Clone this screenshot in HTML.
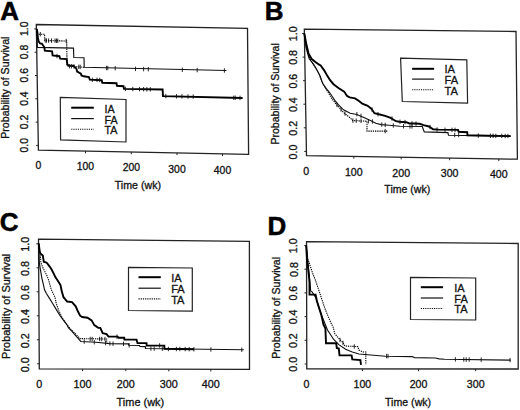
<!DOCTYPE html><html><head><meta charset="utf-8"><style>html,body{margin:0;padding:0;background:#fff;}svg{display:block;}</style></head><body>
<svg width="520" height="410" viewBox="0 0 520 410" font-family='"Liberation Sans", sans-serif'>
<rect width="520" height="410" fill="#fff"/>
<polygon points="36.3,24.5 247.5,28.4 248.6,154.4 38.4,150.1" fill="none" stroke="#222" stroke-width="1.3" stroke-linejoin="miter" opacity="1"/>
<line x1="36.1" y1="145.4" x2="38.3" y2="145.4" stroke="#222" stroke-width="1"/>
<line x1="35.7" y1="122.1" x2="37.9" y2="122.1" stroke="#222" stroke-width="1"/>
<line x1="35.3" y1="98.8" x2="37.5" y2="98.8" stroke="#222" stroke-width="1"/>
<line x1="35.0" y1="75.5" x2="37.2" y2="75.5" stroke="#222" stroke-width="1"/>
<line x1="34.6" y1="52.2" x2="36.8" y2="52.2" stroke="#222" stroke-width="1"/>
<line x1="34.2" y1="28.9" x2="36.4" y2="28.9" stroke="#222" stroke-width="1"/>
<line x1="85.5" y1="151.1" x2="85.5" y2="153.3" stroke="#222" stroke-width="1"/>
<line x1="131.3" y1="152.0" x2="131.3" y2="154.2" stroke="#222" stroke-width="1"/>
<line x1="177.0" y1="152.9" x2="177.0" y2="155.1" stroke="#222" stroke-width="1"/>
<line x1="222.5" y1="153.9" x2="222.5" y2="156.1" stroke="#222" stroke-width="1"/>
<text x="27.9" y="145.2" font-size="10.4" text-anchor="middle" font-weight="normal" fill="#111" stroke="#111" stroke-width="0.3" transform="rotate(-90 27.9 145.2)">0.0</text>
<text x="27.9" y="121.9" font-size="10.4" text-anchor="middle" font-weight="normal" fill="#111" stroke="#111" stroke-width="0.3" transform="rotate(-90 27.9 121.9)">0.2</text>
<text x="27.9" y="98.6" font-size="10.4" text-anchor="middle" font-weight="normal" fill="#111" stroke="#111" stroke-width="0.3" transform="rotate(-90 27.9 98.6)">0.4</text>
<text x="27.9" y="75.3" font-size="10.4" text-anchor="middle" font-weight="normal" fill="#111" stroke="#111" stroke-width="0.3" transform="rotate(-90 27.9 75.3)">0.6</text>
<text x="27.9" y="52.0" font-size="10.4" text-anchor="middle" font-weight="normal" fill="#111" stroke="#111" stroke-width="0.3" transform="rotate(-90 27.9 52.0)">0.8</text>
<text x="27.9" y="28.7" font-size="10.4" text-anchor="middle" font-weight="normal" fill="#111" stroke="#111" stroke-width="0.3" transform="rotate(-90 27.9 28.7)">1.0</text>
<text x="38.5" y="169.2" font-size="10.4" text-anchor="middle" font-weight="normal" fill="#111" stroke="#111" stroke-width="0.3">0</text>
<text x="85.3" y="170.4" font-size="10.4" text-anchor="middle" font-weight="normal" fill="#111" stroke="#111" stroke-width="0.3">100</text>
<text x="131.3" y="171.2" font-size="10.4" text-anchor="middle" font-weight="normal" fill="#111" stroke="#111" stroke-width="0.3">200</text>
<text x="177.0" y="173.1" font-size="10.4" text-anchor="middle" font-weight="normal" fill="#111" stroke="#111" stroke-width="0.3">300</text>
<text x="222.5" y="173.8" font-size="10.4" text-anchor="middle" font-weight="normal" fill="#111" stroke="#111" stroke-width="0.3">400</text>
<text x="9.3" y="87.7" font-size="10.65" text-anchor="middle" font-weight="normal" fill="#111" stroke="#111" stroke-width="0.3" transform="rotate(-90 9.3 87.7)">Probability of Survival</text>
<text x="137.9" y="188.6" font-size="10.65" text-anchor="middle" font-weight="normal" fill="#111" stroke="#111" stroke-width="0.3">Time (wk)</text>
<text x="0.2" y="20.3" font-size="26" text-anchor="start" font-weight="bold" fill="#000" stroke="#000" stroke-width="0.5">A</text>
<polygon points="60.3,97.4 126.0,99.5 126.0,142.0 60.6,139.9" fill="none" stroke="#222" stroke-width="1.2" stroke-linejoin="miter" opacity="1"/>
<polyline points="71.2,107.7 93.8,107.7" fill="none" stroke="#000" stroke-width="2.0" stroke-linejoin="miter" opacity="1"/>
<polyline points="71.2,118.6 93.8,118.6" fill="none" stroke="#111" stroke-width="1.2" stroke-linejoin="miter" opacity="1"/>
<polyline points="71.2,129.2 93.8,129.2" fill="none" stroke="#111" stroke-width="1.1" stroke-dasharray="1.2,1" stroke-linejoin="miter" opacity="1"/>
<text x="104.5" y="113.0" font-size="10.7" text-anchor="start" font-weight="normal" fill="#111" stroke="#111" stroke-width="0.3">IA</text>
<text x="104.5" y="123.6" font-size="10.7" text-anchor="start" font-weight="normal" fill="#111" stroke="#111" stroke-width="0.3">FA</text>
<text x="104.5" y="134.2" font-size="10.7" text-anchor="start" font-weight="normal" fill="#111" stroke="#111" stroke-width="0.3">TA</text>
<polyline points="36.8,29.0 37.4,47.4 73.5,48.1 73.8,57.5 84.0,57.7 84.2,67.3 226.4,70.5" fill="none" stroke="#111" stroke-width="1.15" stroke-linejoin="miter" opacity="1"/>
<polyline points="36.8,29.0 37.5,34.2 44.6,34.2 44.7,40.5 66.7,41.0 67.0,66.0 84.2,67.3" fill="none" stroke="#000" stroke-width="1.1" stroke-dasharray="1.3,0.9" stroke-linejoin="miter" opacity="1"/>
<polyline points="36.8,29.0 37.5,33.0 37.9,38.2 38.5,40.6 38.9,41.9 40.1,43.4 41.9,43.7 43.1,45.5 44.4,47.3 44.8,50.6 52.1,51.3 52.6,55.5 59.4,56.2 60.2,58.7 66.7,59.1 67.3,64.2 68.7,65.6 73.5,65.8 74.5,67.0 76.2,68.3 77.2,71.6 80.9,73.6 81.5,75.5 83.6,76.3 88.9,77.0 89.8,79.7 101.7,80.2 102.3,82.8 116.5,83.2 117.0,85.8 123.5,86.2 124.0,88.9 162.6,89.5 163.0,96.1 242.6,98.0" fill="none" stroke="#000" stroke-width="1.9" stroke-linejoin="miter" opacity="1"/>
<path d="M57.0 53.8V58.2 M92.3 77.6V82.0 M97.0 77.7V82.1 M99.7 77.8V82.2 M125.4 86.7V91.1 M132.8 86.8V91.2 M139.5 86.9V91.3 M143.6 87.0V91.4 M146.9 87.1V91.5 M150.3 87.1V91.5 M165.8 93.9V98.3 M176.5 94.1V98.5 M181.9 94.2V98.6 M188.0 94.3V98.7 M193.2 94.4V98.8 M233.8 95.6V100.0 M235.2 95.6V100.0 M240.0 95.7V100.1" stroke="#111" stroke-width="0.9" fill="none"/>
<path d="M106.4 65.8V70.2 M107.8 65.8V70.2 M115.2 66.0V70.4 M135.5 66.7V71.1 M143.6 66.9V71.3 M148.3 67.0V71.4 M182.3 67.6V72.0 M197.2 67.9V72.3 M224.4 68.3V72.7" stroke="#111" stroke-width="0.9" fill="none"/>
<path d="M40.3 32.0V36.4 M45.2 38.3V42.7 M46.5 38.3V42.7 M48.6 38.4V42.8 M51.5 38.4V42.8 M55.0 38.5V42.9 M56.5 38.5V42.9 M57.8 38.5V42.9 M66.2 38.8V43.2 M69.4 64.0V68.4 M71.4 64.1V68.5 M74.1 64.3V68.7 M78.8 64.6V69.0 M80.2 64.7V69.1" stroke="#111" stroke-width="0.9" fill="none"/>
<polygon points="304.3,29.1 516.0,31.5 517.4,159.2 306.5,155.6" fill="none" stroke="#222" stroke-width="1.3" stroke-linejoin="miter" opacity="1"/>
<line x1="304.2" y1="151.4" x2="306.4" y2="151.4" stroke="#222" stroke-width="1"/>
<line x1="303.8" y1="127.8" x2="306.0" y2="127.8" stroke="#222" stroke-width="1"/>
<line x1="303.4" y1="104.2" x2="305.6" y2="104.2" stroke="#222" stroke-width="1"/>
<line x1="303.0" y1="80.7" x2="305.2" y2="80.7" stroke="#222" stroke-width="1"/>
<line x1="302.6" y1="57.1" x2="304.8" y2="57.1" stroke="#222" stroke-width="1"/>
<line x1="302.2" y1="33.5" x2="304.4" y2="33.5" stroke="#222" stroke-width="1"/>
<line x1="353.8" y1="156.4" x2="353.8" y2="158.6" stroke="#222" stroke-width="1"/>
<line x1="401.2" y1="157.2" x2="401.2" y2="159.4" stroke="#222" stroke-width="1"/>
<line x1="449.6" y1="158.0" x2="449.6" y2="160.2" stroke="#222" stroke-width="1"/>
<line x1="498.8" y1="158.9" x2="498.8" y2="161.1" stroke="#222" stroke-width="1"/>
<text x="296.6" y="152.0" font-size="10.6" text-anchor="middle" font-weight="normal" fill="#111" stroke="#111" stroke-width="0.3" transform="rotate(-90 296.6 152.0)">0.0</text>
<text x="296.6" y="128.3" font-size="10.6" text-anchor="middle" font-weight="normal" fill="#111" stroke="#111" stroke-width="0.3" transform="rotate(-90 296.6 128.3)">0.2</text>
<text x="296.6" y="104.7" font-size="10.6" text-anchor="middle" font-weight="normal" fill="#111" stroke="#111" stroke-width="0.3" transform="rotate(-90 296.6 104.7)">0.4</text>
<text x="296.6" y="81.1" font-size="10.6" text-anchor="middle" font-weight="normal" fill="#111" stroke="#111" stroke-width="0.3" transform="rotate(-90 296.6 81.1)">0.6</text>
<text x="296.6" y="57.4" font-size="10.6" text-anchor="middle" font-weight="normal" fill="#111" stroke="#111" stroke-width="0.3" transform="rotate(-90 296.6 57.4)">0.8</text>
<text x="296.6" y="33.8" font-size="10.6" text-anchor="middle" font-weight="normal" fill="#111" stroke="#111" stroke-width="0.3" transform="rotate(-90 296.6 33.8)">1.0</text>
<text x="306.1" y="175.2" font-size="10.6" text-anchor="middle" font-weight="normal" fill="#111" stroke="#111" stroke-width="0.3">0</text>
<text x="353.8" y="175.9" font-size="10.6" text-anchor="middle" font-weight="normal" fill="#111" stroke="#111" stroke-width="0.3">100</text>
<text x="401.2" y="176.7" font-size="10.6" text-anchor="middle" font-weight="normal" fill="#111" stroke="#111" stroke-width="0.3">200</text>
<text x="449.6" y="177.4" font-size="10.6" text-anchor="middle" font-weight="normal" fill="#111" stroke="#111" stroke-width="0.3">300</text>
<text x="498.8" y="178.2" font-size="10.6" text-anchor="middle" font-weight="normal" fill="#111" stroke="#111" stroke-width="0.3">400</text>
<text x="279.0" y="93.9" font-size="10.55" text-anchor="middle" font-weight="normal" fill="#111" stroke="#111" stroke-width="0.3" transform="rotate(-90 279.0 93.9)">Probability of Survival</text>
<text x="407.3" y="193.0" font-size="10.55" text-anchor="middle" font-weight="normal" fill="#111" stroke="#111" stroke-width="0.3">Time (wk)</text>
<text x="264.8" y="19.5" font-size="26" text-anchor="start" font-weight="bold" fill="#000" stroke="#000" stroke-width="0.5">B</text>
<polygon points="400.6,58.2 466.8,59.8 467.6,103.1 402.3,101.5" fill="none" stroke="#222" stroke-width="1.2" stroke-linejoin="miter" opacity="1"/>
<polyline points="412.1,68.8 434.1,68.8" fill="none" stroke="#000" stroke-width="2.0" stroke-linejoin="miter" opacity="1"/>
<polyline points="412.1,79.1 434.1,79.1" fill="none" stroke="#111" stroke-width="1.2" stroke-linejoin="miter" opacity="1"/>
<polyline points="412.1,89.7 434.1,89.7" fill="none" stroke="#111" stroke-width="1.1" stroke-dasharray="1.2,1" stroke-linejoin="miter" opacity="1"/>
<text x="444.5" y="73.2" font-size="11.1" text-anchor="start" font-weight="normal" fill="#111" stroke="#111" stroke-width="0.3">IA</text>
<text x="444.5" y="83.8" font-size="11.1" text-anchor="start" font-weight="normal" fill="#111" stroke="#111" stroke-width="0.3">FA</text>
<text x="444.5" y="95.2" font-size="11.1" text-anchor="start" font-weight="normal" fill="#111" stroke="#111" stroke-width="0.3">TA</text>
<polyline points="304.3,33.5 305.5,42.0 306.2,48.0 309.2,58.8 312.3,62.7 315.4,67.3 317.7,71.2 320.0,75.8 322.7,83.6 326.1,88.3 329.4,92.3 332.1,96.3 334.8,100.4 338.1,104.4 343.5,109.8 350.2,113.2 356.9,114.5 365.0,117.9 370.4,120.6 375.8,123.3 381.1,124.6 389.2,125.3 400.0,126.2 422.3,126.5 424.3,131.9 447.9,132.6 448.5,135.3 510.6,136.1" fill="none" stroke="#111" stroke-width="1.15" stroke-linejoin="miter" opacity="1"/>
<polyline points="304.3,33.5 306.0,46.0 308.5,56.0 311.5,61.5 314.5,66.0 317.0,70.5 319.5,75.0 321.3,80.2 324.0,85.5 328.1,92.3 332.1,99.0 336.0,104.0 340.0,108.5 343.5,112.5 350.2,117.9 352.9,120.6 367.0,121.2 367.0,131.1 387.9,131.1" fill="none" stroke="#000" stroke-width="1.1" stroke-dasharray="1.3,0.9" stroke-linejoin="miter" opacity="1"/>
<polyline points="304.3,33.5 306.2,43.5 308.5,53.5 311.5,58.8 315.4,61.9 319.2,64.7 320.7,65.4 324.0,70.1 326.7,74.8 330.1,80.2 333.5,84.2 338.8,88.3 344.2,91.6 346.9,95.7 349.6,97.4 355.0,98.4 359.0,101.0 362.3,103.7 367.7,105.8 371.7,109.1 374.4,113.2 379.8,114.5 385.2,115.9 390.6,117.9 396.0,121.2 399.4,121.8 406.2,122.2 408.8,123.2 419.6,123.8 423.6,125.2 429.0,126.5 433.1,129.2 438.5,129.6 458.1,129.9 458.6,131.8 467.2,132.2 467.5,135.2 510.6,136.1" fill="none" stroke="#000" stroke-width="1.9" stroke-linejoin="miter" opacity="1"/>
<path d="M372.0 107.3V111.7 M378.0 112.0V116.4 M392.0 116.3V120.7 M400.0 119.6V124.0 M405.0 119.9V124.3 M412.0 121.2V125.6 M416.0 121.4V125.8 M430.0 124.8V129.2 M437.0 127.3V131.7 M445.0 127.6V132.0 M452.0 127.7V132.1 M455.0 127.7V132.1 M478.3 133.4V137.8 M490.4 133.6V138.0 M493.1 133.6V138.0 M495.8 133.7V138.1 M501.8 133.7V138.1 M505.2 133.8V138.2 M507.9 133.8V138.2" stroke="#111" stroke-width="0.9" fill="none"/>
<path d="M356.9 112.0V116.4 M361.0 113.7V118.1 M372.4 119.3V123.7 M381.8 122.3V126.7 M385.2 122.7V127.1 M393.3 123.3V127.7 M403.5 124.1V128.5 M410.0 124.2V128.6 M412.0 124.2V128.6 M454.7 132.8V137.2 M458.7 132.8V137.2" stroke="#111" stroke-width="0.9" fill="none"/>
<path d="M337.0 102.8V107.2 M341.0 107.3V111.7 M345.0 111.3V115.7 M352.9 118.4V122.8 M356.2 118.5V122.9 M361.0 118.6V123.0 M368.4 119.0V123.4 M385.2 128.9V133.3" stroke="#111" stroke-width="0.9" fill="none"/>
<polygon points="38.5,239.1 249.4,241.3 249.5,369.4 39.3,368.8" fill="none" stroke="#222" stroke-width="1.3" stroke-linejoin="miter" opacity="1"/>
<line x1="37.1" y1="363.8" x2="39.3" y2="363.8" stroke="#222" stroke-width="1"/>
<line x1="36.9" y1="339.8" x2="39.1" y2="339.8" stroke="#222" stroke-width="1"/>
<line x1="36.8" y1="315.8" x2="39.0" y2="315.8" stroke="#222" stroke-width="1"/>
<line x1="36.6" y1="291.8" x2="38.8" y2="291.8" stroke="#222" stroke-width="1"/>
<line x1="36.5" y1="267.8" x2="38.7" y2="267.8" stroke="#222" stroke-width="1"/>
<line x1="36.3" y1="243.8" x2="38.5" y2="243.8" stroke="#222" stroke-width="1"/>
<line x1="82.6" y1="368.9" x2="82.6" y2="371.1" stroke="#222" stroke-width="1"/>
<line x1="125.8" y1="369.0" x2="125.8" y2="371.2" stroke="#222" stroke-width="1"/>
<line x1="168.8" y1="369.2" x2="168.8" y2="371.4" stroke="#222" stroke-width="1"/>
<line x1="210.8" y1="369.3" x2="210.8" y2="371.5" stroke="#222" stroke-width="1"/>
<text x="29.2" y="364.8" font-size="10.8" text-anchor="middle" font-weight="normal" fill="#111" stroke="#111" stroke-width="0.3" transform="rotate(-90 29.2 364.8)">0.0</text>
<text x="29.2" y="340.7" font-size="10.8" text-anchor="middle" font-weight="normal" fill="#111" stroke="#111" stroke-width="0.3" transform="rotate(-90 29.2 340.7)">0.2</text>
<text x="29.2" y="316.6" font-size="10.8" text-anchor="middle" font-weight="normal" fill="#111" stroke="#111" stroke-width="0.3" transform="rotate(-90 29.2 316.6)">0.4</text>
<text x="29.2" y="292.5" font-size="10.8" text-anchor="middle" font-weight="normal" fill="#111" stroke="#111" stroke-width="0.3" transform="rotate(-90 29.2 292.5)">0.6</text>
<text x="29.2" y="268.4" font-size="10.8" text-anchor="middle" font-weight="normal" fill="#111" stroke="#111" stroke-width="0.3" transform="rotate(-90 29.2 268.4)">0.8</text>
<text x="29.2" y="244.3" font-size="10.8" text-anchor="middle" font-weight="normal" fill="#111" stroke="#111" stroke-width="0.3" transform="rotate(-90 29.2 244.3)">1.0</text>
<text x="39.2" y="387.6" font-size="10.8" text-anchor="middle" font-weight="normal" fill="#111" stroke="#111" stroke-width="0.3">0</text>
<text x="82.6" y="387.7" font-size="10.8" text-anchor="middle" font-weight="normal" fill="#111" stroke="#111" stroke-width="0.3">100</text>
<text x="125.8" y="387.8" font-size="10.8" text-anchor="middle" font-weight="normal" fill="#111" stroke="#111" stroke-width="0.3">200</text>
<text x="168.8" y="387.9" font-size="10.8" text-anchor="middle" font-weight="normal" fill="#111" stroke="#111" stroke-width="0.3">300</text>
<text x="210.8" y="388.0" font-size="10.8" text-anchor="middle" font-weight="normal" fill="#111" stroke="#111" stroke-width="0.3">400</text>
<text x="10.0" y="306.3" font-size="10.95" text-anchor="middle" font-weight="normal" fill="#111" stroke="#111" stroke-width="0.3" transform="rotate(-90 10.0 306.3)">Probability of Survival</text>
<text x="140.4" y="406.0" font-size="10.95" text-anchor="middle" font-weight="normal" fill="#111" stroke="#111" stroke-width="0.3">Time (wk)</text>
<text x="-0.3" y="231.0" font-size="26" text-anchor="start" font-weight="bold" fill="#000" stroke="#000" stroke-width="0.5">C</text>
<polygon points="128.5,267.4 192.3,268.0 192.3,311.1 128.5,310.5" fill="none" stroke="#222" stroke-width="1.2" stroke-linejoin="miter" opacity="1"/>
<polyline points="138.5,277.2 160.8,277.2" fill="none" stroke="#000" stroke-width="2.0" stroke-linejoin="miter" opacity="1"/>
<polyline points="138.5,288.2 160.8,288.2" fill="none" stroke="#111" stroke-width="1.2" stroke-linejoin="miter" opacity="1"/>
<polyline points="138.5,298.9 160.8,298.9" fill="none" stroke="#111" stroke-width="1.1" stroke-dasharray="1.2,1" stroke-linejoin="miter" opacity="1"/>
<text x="171.2" y="281.7" font-size="11" text-anchor="start" font-weight="normal" fill="#111" stroke="#111" stroke-width="0.3">IA</text>
<text x="171.2" y="292.5" font-size="11" text-anchor="start" font-weight="normal" fill="#111" stroke="#111" stroke-width="0.3">FA</text>
<text x="171.2" y="304.0" font-size="11" text-anchor="start" font-weight="normal" fill="#111" stroke="#111" stroke-width="0.3">TA</text>
<polyline points="38.7,243.5 39.3,262.0 39.9,266.6 40.9,272.4 41.9,278.3 43.3,284.1 44.6,290.0 46.4,293.5 49.5,298.4 52.5,303.3 56.2,309.4 59.9,315.5 63.5,320.4 66.6,324.0 68.4,327.7 72.0,331.3 75.0,335.0 78.8,339.2 80.8,341.5 96.0,342.3 110.0,343.6 128.5,343.9 128.7,345.3 139.5,345.5 140.0,346.5 145.3,346.6 145.5,348.5 243.8,349.8" fill="none" stroke="#111" stroke-width="1.15" stroke-linejoin="miter" opacity="1"/>
<polyline points="38.7,243.5 39.5,250.0 40.4,255.9 40.9,262.7 42.8,267.6 45.3,272.4 47.2,276.3 48.7,280.2 49.7,284.1 51.1,289.0 52.5,292.3 55.0,297.2 56.2,303.3 59.2,311.8 62.3,317.9 66.0,323.5 70.0,328.5 74.1,332.5 78.1,336.5 80.1,338.6 106.6,339.0 106.8,343.2" fill="none" stroke="#000" stroke-width="1.1" stroke-dasharray="1.3,0.9" stroke-linejoin="miter" opacity="1"/>
<polyline points="38.7,243.5 39.7,251.4 40.4,253.4 42.8,255.4 43.8,261.7 46.7,262.7 49.7,266.6 51.6,269.5 53.6,273.4 55.5,277.3 57.5,280.2 59.4,283.2 60.5,285.0 61.7,291.1 63.5,297.2 67.2,301.5 72.0,302.1 75.7,306.3 78.1,311.8 80.1,315.7 82.2,317.0 87.5,317.7 91.6,320.4 94.3,325.1 98.3,327.8 100.3,327.9 102.7,333.2 106.6,334.1 108.5,336.5 117.7,336.6 118.5,337.7 124.2,337.7 124.4,339.6 136.5,339.6 137.5,343.1 146.5,343.1 146.7,345.5 164.3,345.6 164.5,348.7 194.0,349.3" fill="none" stroke="#000" stroke-width="1.9" stroke-linejoin="miter" opacity="1"/>
<path d="M117.0 334.5V338.9 M159.6 343.3V347.7 M176.4 346.8V351.2 M179.8 346.8V351.2 M185.2 346.9V351.3 M189.2 347.0V351.4 M193.9 347.1V351.5" stroke="#111" stroke-width="0.9" fill="none"/>
<path d="M84.2 339.4V343.8 M94.3 340.0V344.4 M105.6 340.9V345.3 M109.9 341.3V345.7 M113.0 341.5V345.9 M123.5 341.6V346.0 M129.2 343.1V347.5 M150.9 346.4V350.8 M154.2 346.4V350.8 M162.3 346.5V350.9 M168.4 346.8V351.2 M210.9 347.3V351.7 M241.8 347.6V352.0" stroke="#111" stroke-width="0.9" fill="none"/>
<path d="M90.2 336.8V341.2 M92.2 336.8V341.2 M99.6 336.8V341.2 M101.7 336.8V341.2 M105.0 336.8V341.2" stroke="#111" stroke-width="0.9" fill="none"/>
<polygon points="306.5,241.7 518.2,243.5 518.2,369.0 306.8,368.9" fill="none" stroke="#222" stroke-width="1.3" stroke-linejoin="miter" opacity="1"/>
<line x1="304.6" y1="364.0" x2="306.8" y2="364.0" stroke="#222" stroke-width="1"/>
<line x1="304.5" y1="340.3" x2="306.7" y2="340.3" stroke="#222" stroke-width="1"/>
<line x1="304.5" y1="316.6" x2="306.7" y2="316.6" stroke="#222" stroke-width="1"/>
<line x1="304.4" y1="292.9" x2="306.6" y2="292.9" stroke="#222" stroke-width="1"/>
<line x1="304.4" y1="269.2" x2="306.6" y2="269.2" stroke="#222" stroke-width="1"/>
<line x1="304.3" y1="245.5" x2="306.5" y2="245.5" stroke="#222" stroke-width="1"/>
<line x1="362.4" y1="368.9" x2="362.4" y2="371.1" stroke="#222" stroke-width="1"/>
<line x1="418.5" y1="369.0" x2="418.5" y2="371.2" stroke="#222" stroke-width="1"/>
<line x1="475.7" y1="369.0" x2="475.7" y2="371.2" stroke="#222" stroke-width="1"/>
<text x="297.5" y="364.3" font-size="10.6" text-anchor="middle" font-weight="normal" fill="#111" stroke="#111" stroke-width="0.3" transform="rotate(-90 297.5 364.3)">0.0</text>
<text x="297.5" y="340.6" font-size="10.6" text-anchor="middle" font-weight="normal" fill="#111" stroke="#111" stroke-width="0.3" transform="rotate(-90 297.5 340.6)">0.2</text>
<text x="297.5" y="316.9" font-size="10.6" text-anchor="middle" font-weight="normal" fill="#111" stroke="#111" stroke-width="0.3" transform="rotate(-90 297.5 316.9)">0.4</text>
<text x="297.5" y="293.2" font-size="10.6" text-anchor="middle" font-weight="normal" fill="#111" stroke="#111" stroke-width="0.3" transform="rotate(-90 297.5 293.2)">0.6</text>
<text x="297.5" y="269.5" font-size="10.6" text-anchor="middle" font-weight="normal" fill="#111" stroke="#111" stroke-width="0.3" transform="rotate(-90 297.5 269.5)">0.8</text>
<text x="297.5" y="245.8" font-size="10.6" text-anchor="middle" font-weight="normal" fill="#111" stroke="#111" stroke-width="0.3" transform="rotate(-90 297.5 245.8)">1.0</text>
<text x="306.5" y="387.6" font-size="10.6" text-anchor="middle" font-weight="normal" fill="#111" stroke="#111" stroke-width="0.3">0</text>
<text x="362.4" y="387.7" font-size="10.6" text-anchor="middle" font-weight="normal" fill="#111" stroke="#111" stroke-width="0.3">100</text>
<text x="418.5" y="387.8" font-size="10.6" text-anchor="middle" font-weight="normal" fill="#111" stroke="#111" stroke-width="0.3">200</text>
<text x="475.7" y="387.9" font-size="10.6" text-anchor="middle" font-weight="normal" fill="#111" stroke="#111" stroke-width="0.3">300</text>
<text x="279.7" y="307.8" font-size="10.6" text-anchor="middle" font-weight="normal" fill="#111" stroke="#111" stroke-width="0.3" transform="rotate(-90 279.7 307.8)">Probability of Survival</text>
<text x="408.1" y="406.1" font-size="10.6" text-anchor="middle" font-weight="normal" fill="#111" stroke="#111" stroke-width="0.3">Time (wk)</text>
<text x="267.6" y="234.6" font-size="26" text-anchor="start" font-weight="bold" fill="#000" stroke="#000" stroke-width="0.5">D</text>
<polygon points="410.5,277.4 475.7,278.0 475.7,320.0 410.5,319.5" fill="none" stroke="#222" stroke-width="1.2" stroke-linejoin="miter" opacity="1"/>
<polyline points="420.8,287.2 443.1,287.2" fill="none" stroke="#000" stroke-width="2.0" stroke-linejoin="miter" opacity="1"/>
<polyline points="420.8,298.0 443.1,298.0" fill="none" stroke="#111" stroke-width="1.2" stroke-linejoin="miter" opacity="1"/>
<polyline points="420.8,308.5 443.1,308.5" fill="none" stroke="#111" stroke-width="1.1" stroke-dasharray="1.2,1" stroke-linejoin="miter" opacity="1"/>
<text x="454.3" y="292.1" font-size="11" text-anchor="start" font-weight="normal" fill="#111" stroke="#111" stroke-width="0.3">IA</text>
<text x="454.3" y="303.0" font-size="11" text-anchor="start" font-weight="normal" fill="#111" stroke="#111" stroke-width="0.3">FA</text>
<text x="454.3" y="313.4" font-size="11" text-anchor="start" font-weight="normal" fill="#111" stroke="#111" stroke-width="0.3">TA</text>
<polyline points="306.2,245.5 307.5,260.0 309.5,278.0 310.7,291.0 311.9,291.6 316.2,298.3 318.6,306.8 321.7,315.4 324.1,321.5 327.5,330.0 333.5,339.2 338.8,344.6 345.6,349.3 352.3,352.0 359.0,354.0 385.4,356.2 412.3,356.6 414.3,357.6 435.2,358.0 439.2,358.9 444.6,359.2 510.8,360.1" fill="none" stroke="#111" stroke-width="1.15" stroke-linejoin="miter" opacity="1"/>
<polyline points="306.2,245.5 307.7,258.3 310.1,265.6 312.5,272.9 315.0,279.0 317.4,286.1 319.9,293.4 322.3,300.7 324.7,308.0 327.2,314.1 330.5,322.0 333.3,327.6 334.8,333.8 339.5,339.2 342.9,342.6 344.9,346.0 357.7,346.6 359.0,350.0 363.1,352.0 365.8,352.0 365.8,364.5" fill="none" stroke="#000" stroke-width="1.1" stroke-dasharray="1.3,0.9" stroke-linejoin="miter" opacity="1"/>
<polyline points="306.2,245.5 307.0,258.3 308.9,275.4 309.5,282.7 309.5,294.6 315.6,294.6 316.8,300.7 319.9,310.5 321.3,315.0 322.3,319.0 323.4,324.4 325.4,328.5 326.0,343.3 336.2,343.3 336.8,348.0 338.8,348.6 339.5,355.4 351.6,355.4 352.3,359.4 360.4,360.1 361.0,364.8" fill="none" stroke="#000" stroke-width="1.9" stroke-linejoin="miter" opacity="1"/>
<path d="M386.6 353.9V358.3 M388.0 353.9V358.3 M455.4 357.2V361.6 M463.8 357.3V361.7 M466.2 357.4V361.8 M469.2 357.4V361.8 M481.2 357.5V361.9 M510.0 357.9V362.3" stroke="#111" stroke-width="0.9" fill="none"/>
<path d="M340.0 337.8V342.2 M343.0 340.8V345.2 M354.3 344.3V348.7" stroke="#111" stroke-width="0.9" fill="none"/>
</svg></body></html>
